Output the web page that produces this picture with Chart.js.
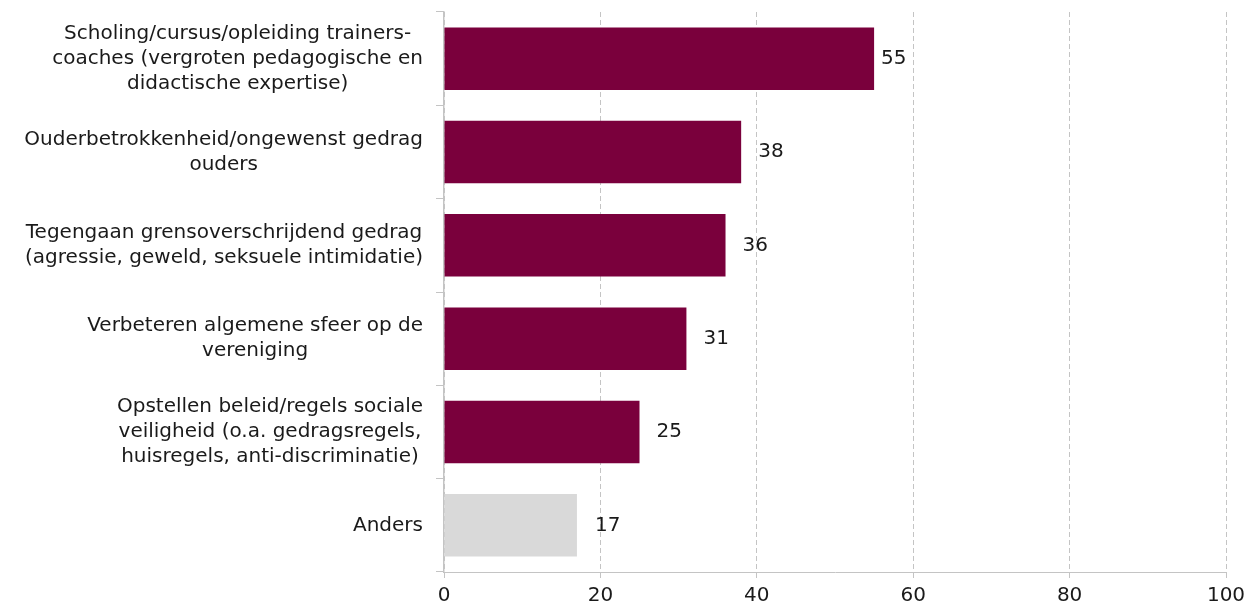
<!DOCTYPE html>
<html>
<head>
<meta charset="utf-8">
<script src="https://cdn.jsdelivr.net/npm/chart.js@4/dist/chart.umd.min.js"></script>
<style>
  html, body { margin: 0; padding: 0; background: #ffffff; }
  #wrap { width: 1250px; height: 607px; position: relative; }
</style>
</head>
<body>
<div id="wrap"><canvas id="c"></canvas></div>
<script>
const categories = [
  ["Scholing/cursus/opleiding trainers-", "coaches (vergroten pedagogische en", "didactische expertise)"],
  ["Ouderbetrokkenheid/ongewenst gedrag", "ouders"],
  ["Tegengaan grensoverschrijdend gedrag", "(agressie, geweld, seksuele intimidatie)"],
  ["Verbeteren algemene sfeer op de", "vereniging"],
  ["Opstellen beleid/regels sociale", "veiligheid (o.a. gedragsregels,", "huisregels, anti-discriminatie)"],
  ["Anders"]
];
const values = [55, 38, 36, 31, 25, 17];
const barColors = ["#7a003c", "#7a003c", "#7a003c", "#7a003c", "#7a003c", "#d9d9d9"];
const xTicks = [0, 20, 40, 60, 80, 100];

// style: gap between bar end and its value label
const labelGap = [7, 17, 17, 17, 17, 18];

const FONT = "'DejaVu Sans', Verdana, sans-serif";

const labelPlugin = {
  id: 'customLabels',
  afterDraw(chart) {
    const ctx = chart.ctx;
    const yScale = chart.scales.y;
    ctx.save();
    ctx.font = "20px " + FONT;
    ctx.fillStyle = "#1a1a1a";
    const right = yScale.right - 21;
    const lh = 25;
    categories.forEach((lines, i) => {
      const yc = yScale.getPixelForValue(i);
      let maxW = 0;
      lines.forEach(l => { maxW = Math.max(maxW, ctx.measureText(l).width); });
      const cx = right - maxW / 2;
      ctx.textAlign = "center";
      ctx.textBaseline = "middle";
      const y0 = yc - (lines.length - 1) * lh / 2;
      lines.forEach((l, k) => ctx.fillText(l, cx, y0 + k * lh));
    });
    const meta = chart.getDatasetMeta(0);
    ctx.textAlign = "left";
    ctx.textBaseline = "middle";
    meta.data.forEach((bar, i) => {
      ctx.fillText(String(values[i]), bar.x + labelGap[i], bar.y);
    });
    ctx.restore();
  }
};

new Chart(document.getElementById('c'), {
  type: 'bar',
  data: {
    labels: categories,
    datasets: [{
      data: values,
      backgroundColor: barColors,
      borderWidth: 0,
      categoryPercentage: 1.0,
      barPercentage: 0.67
    }]
  },
  options: {
    indexAxis: 'y',
    responsive: true,
    maintainAspectRatio: false,
    animation: false,
    layout: { padding: { top: 12, right: 24, left: 0, bottom: 0 } },
    plugins: { legend: { display: false }, tooltip: { enabled: false } },
    scales: {
      x: {
        type: 'linear',
        min: 0, max: 100,
        afterBuildTicks(scale) { scale.ticks = xTicks.map(v => ({ value: v })); },
        afterFit(scale) { scale.height = 35; scale.paddingRight = 0; scale.paddingLeft = 0; },
        grid: {
          color: "#c4c4c4",
          lineWidth: 1,
          drawTicks: true,
          tickLength: 6,
          tickColor: "#c4c4c4"
        },
        border: { display: true, color: "#c4c4c4", width: 1, dash: [5, 3] },
        ticks: { font: { family: FONT, size: 20 }, color: "#1a1a1a", padding: 6 }
      },
      y: {
        type: 'category',
        offset: true,
        afterFit(scale) { scale.width = 444; },
        grid: {
          offset: true,
          drawOnChartArea: false,
          drawTicks: true,
          tickLength: 8,
          color: "#c4c4c4"
        },
        border: { display: true, color: "#c4c4c4", width: 1.5 },
        ticks: { display: false }
      }
    }
  },
  plugins: [labelPlugin]
});
</script>
</body>
</html>
